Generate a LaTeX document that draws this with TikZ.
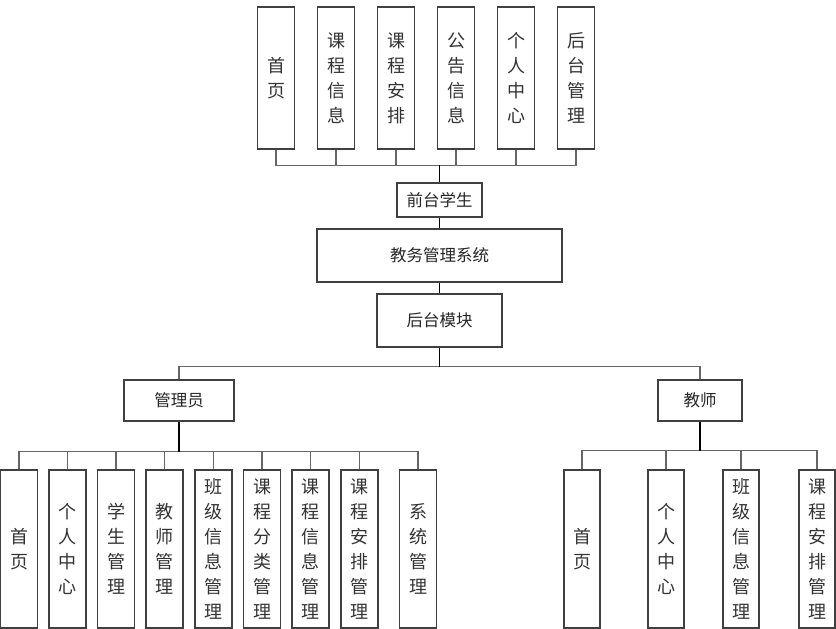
\documentclass[tikz,border=0pt]{standalone}
\usepackage{fontspec}
\setmainfont{Noto Sans CJK SC}

\begin{document}
\begin{tikzpicture}[x = 1pt, y = -1pt]
	\tikzstyle{boxStyle} = [shape = rectangle, draw = black!75, line width = 1.1pt, fill = white, inner sep = 0pt, text = black!85, font = \fontsize{16.5pt}{20pt}\selectfont]
	\tikzstyle{vboxStyle} = [boxStyle, minimum width = 37pt, align = center, text = black!80, font = \fontsize{18pt}{25pt}\selectfont]
	\tikzstyle{busStyle} = [draw = black!60, line width = 1.1pt]
	\tikzstyle{stemStyle} = [draw = black, line width = 1.1pt]
	\useasboundingbox (0,0) rectangle (836,629);
	% top row
	\node[vboxStyle, minimum height = 142pt] (f1) at (276, 78) {首\\页};
	\node[vboxStyle, minimum height = 142pt] (f2) at (336, 78) {课\\程\\信\\息};
	\node[vboxStyle, minimum height = 142pt] (f3) at (396, 78) {课\\程\\安\\排};
	\node[vboxStyle, minimum height = 142pt] (f4) at (456, 78) {公\\告\\信\\息};
	\node[vboxStyle, minimum height = 142pt] (f5) at (516, 78) {个\\人\\中\\心};
	\node[vboxStyle, minimum height = 142pt] (f6) at (576, 78) {后\\台\\管\\理};
	% middle
	\node[boxStyle, minimum width = 85pt, minimum height = 34pt] (front) at (439.5, 200) {前台学生};
	\node[boxStyle, minimum width = 245pt, minimum height = 53pt] (sys) at (439.5, 255.5) {教务管理系统};
	\node[boxStyle, minimum width = 125pt, minimum height = 53pt] (back) at (439.5, 320.5) {后台模块};
	\node[boxStyle, minimum width = 110pt, minimum height = 41pt] (adm) at (179, 400.5) {管理员};
	\node[boxStyle, minimum width = 84pt, minimum height = 41pt] (tea) at (700, 400.5) {教师};
	% admin row
	\node[vboxStyle, minimum height = 158pt] (a1) at (19, 549) {首\\页};
	\node[vboxStyle, minimum height = 158pt] (a2) at (67.5, 549) {个\\人\\中\\心};
	\node[vboxStyle, minimum height = 158pt] (a3) at (116, 549) {学\\生\\管\\理};
	\node[vboxStyle, minimum height = 158pt] (a4) at (164.5, 549) {教\\师\\管\\理};
	\node[vboxStyle, minimum height = 158pt] (a5) at (213.5, 549) {班\\级\\信\\息\\管\\理};
	\node[vboxStyle, minimum height = 158pt] (a6) at (262, 549) {课\\程\\分\\类\\管\\理};
	\node[vboxStyle, minimum height = 158pt] (a7) at (310.5, 549) {课\\程\\信\\息\\管\\理};
	\node[vboxStyle, minimum height = 158pt] (a8) at (359.5, 549) {课\\程\\安\\排\\管\\理};
	\node[vboxStyle, minimum height = 158pt] (a9) at (418, 549) {系\\统\\管\\理};
	% teacher row
	\node[vboxStyle, minimum width = 36pt, minimum height = 158pt] (t1) at (582, 549) {首\\页};
	\node[vboxStyle, minimum width = 36pt, minimum height = 158pt] (t2) at (666, 549) {个\\人\\中\\心};
	\node[vboxStyle, minimum width = 36pt, minimum height = 158pt] (t3) at (741, 549) {班\\级\\信\\息\\管\\理};
	\node[vboxStyle, minimum width = 36pt, minimum height = 158pt] (t4) at (817, 549) {课\\程\\安\\排\\管\\理};
	% connectors
	\draw[busStyle] (front.north) ++(0,-17) -| (f1.south);
	\draw[busStyle] (front.north) ++(0,-17) -| (f2.south);
	\draw[busStyle] (front.north) ++(0,-17) -| (f3.south);
	\draw[busStyle] (front.north) ++(0,-17) -| (f4.south);
	\draw[busStyle] (front.north) ++(0,-17) -| (f5.south);
	\draw[busStyle] (front.north) ++(0,-17) -| (f6.south);
	\draw[stemStyle] (front.north) -- ++(0,-17);
	\draw[stemStyle] (front.south) -- (sys.north);
	\draw[stemStyle] (sys.south) -- (back.north);
	\draw[busStyle] (back.south) ++(0,19) -| (adm.north);
	\draw[busStyle] (back.south) ++(0,19) -| (tea.north);
	\draw[stemStyle] (back.south) -- ++(0,19);
	\draw[busStyle] (adm.south) ++(0,30) -| (a1.north);
	\draw[busStyle] (adm.south) ++(0,30) -| (a2.north);
	\draw[busStyle] (adm.south) ++(0,30) -| (a3.north);
	\draw[busStyle] (adm.south) ++(0,30) -| (a4.north);
	\draw[busStyle] (adm.south) ++(0,30) -| (a5.north);
	\draw[busStyle] (adm.south) ++(0,30) -| (a6.north);
	\draw[busStyle] (adm.south) ++(0,30) -| (a7.north);
	\draw[busStyle] (adm.south) ++(0,30) -| (a8.north);
	\draw[busStyle] (adm.south) ++(0,30) -| (a9.north);
	\draw[stemStyle] (adm.south) -- ++(0,30);
	\draw[busStyle] (tea.south) ++(0,29) -| (t1.north);
	\draw[busStyle] (tea.south) ++(0,29) -| (t2.north);
	\draw[busStyle] (tea.south) ++(0,29) -| (t3.north);
	\draw[busStyle] (tea.south) ++(0,29) -| (t4.north);
	\draw[stemStyle] (tea.south) -- ++(0,29);
\end{tikzpicture}
\end{document}
